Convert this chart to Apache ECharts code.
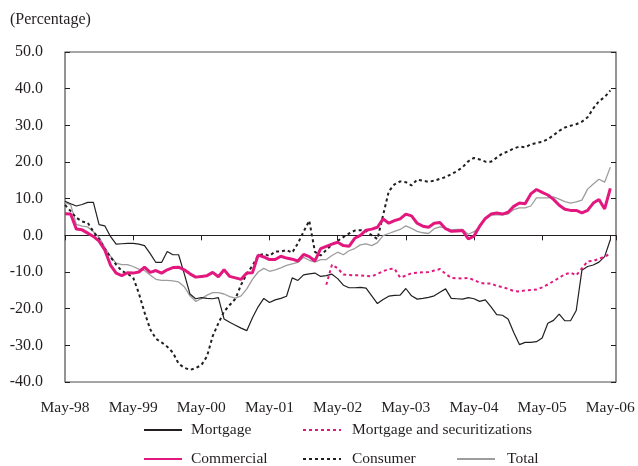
<!DOCTYPE html>
<html>
<head>
<meta charset="utf-8">
<title>Loan growth</title>
<script src="https://cdn.jsdelivr.net/npm/echarts@6/dist/echarts.min.js"></script>
<style>
  html, body { margin: 0; padding: 0; background: #fff; }
  #main { width: 638px; height: 466px; }
</style>
</head>
<body>
<div id="main"></div>
<script>
// monthly points, May-98 .. May-06 (97 months)
var monthLabels = ['May-98', 'May-99', 'May-00', 'May-01', 'May-02', 'May-03', 'May-04', 'May-05', 'May-06'];

var mortgage = [
  9.3, 8.6, 8.0, 8.4, 9.0, 9.0, 2.9, 2.6, -0.3, -2.4,
  -2.3, -2.2, -2.2, -2.4, -2.8, -5.0, -7.4, -7.4, -4.4, -5.3,
  -5.3, -10.5, -16.0, -17.3, -17.0, -17.2, -17.3, -17.0, -22.8, -23.7,
  -24.5, -25.3, -26.0, -22.5, -19.5, -17.2, -18.3, -17.6, -17.2, -16.6,
  -11.6, -12.3, -10.8, -10.5, -10.3, -11.2, -11.0, -10.6, -11.8, -13.6,
  -14.3, -14.3, -14.2, -14.4, -16.5, -18.6, -17.5, -16.6, -16.4, -16.3,
  -14.5, -16.5, -17.4, -17.2, -16.9, -16.5, -15.5, -14.6, -17.2, -17.3,
  -17.4, -17.0, -17.3, -18.0, -17.6, -19.5, -21.6, -21.8, -22.8, -26.5,
  -29.8, -29.2, -29.2, -29.0, -28.0, -24.0, -23.2, -21.5, -23.3, -23.3,
  -20.5, -9.5, -8.5, -8.1, -7.3, -5.8, -1.2
];

// series begins in the 47th month
var mortgageSecStart = 46;
var mortgageSec = [
  -13.5, -8.0, -9.0, -10.7, -10.8, -10.9, -10.9, -11.1, -11.2, -10.5,
  -9.8, -9.2, -9.1, -11.5, -11.0, -10.3, -10.2, -10.1, -10.0, -9.6,
  -9.2, -10.5, -11.6, -11.7, -11.8, -11.6, -12.2, -12.9, -13.2, -13.1,
  -13.8, -14.1, -14.6, -15.2, -15.3, -15.0, -14.9, -14.8, -14.2, -13.4,
  -12.5, -11.6, -10.6, -10.2, -10.9, -9.0, -7.1, -7.0, -6.4, -5.8, -5.0
];

var commercial = [
  5.9, 5.8, 1.7, 1.5, 0.6, -0.3, -1.6, -4.0, -8.1, -10.3,
  -11.0, -10.2, -10.3, -10.0, -8.7, -10.1, -9.6, -10.3, -9.4, -8.8,
  -8.7, -9.4, -10.5, -11.4, -11.2, -11.0, -10.1, -11.3, -9.4, -11.2,
  -11.6, -12.0, -10.3, -10.2, -5.4, -5.9, -6.6, -6.6, -5.7, -6.2,
  -6.5, -7.0, -5.2, -5.8, -7.0, -3.6, -3.0, -2.4, -1.9, -2.8,
  -3.0, -0.8, 0.0, 1.4, 1.7, 2.2, 4.5, 3.3, 4.0, 4.5,
  5.8, 5.3, 3.3, 2.5, 2.2, 3.3, 3.5, 1.8, 1.1, 1.2,
  1.3, -1.0, -0.2, 2.5, 4.6, 5.8, 6.1, 5.8, 6.3, 7.9,
  8.8, 8.6, 11.3, 12.5, 11.7, 11.0, 9.8, 8.2, 7.1, 6.8,
  6.8, 6.1, 6.8, 8.8, 9.8, 7.2, 12.8
];

var consumer = [
  8.3, 6.6, 4.8, 3.8, 3.4, 1.0, -1.0, -3.7, -5.9, -8.0,
  -9.7, -10.5, -11.5, -15.8, -21.0, -25.6, -28.2, -29.2, -30.4, -32.0,
  -35.0, -36.1, -36.7, -36.2, -35.4, -33.0, -27.5, -24.0, -20.8, -19.0,
  -17.3, -13.5, -10.5, -8.3, -5.5, -5.1, -5.6, -4.4, -4.4, -4.0,
  -4.7, -2.2, 1.0, 4.0, -4.5, -5.5, -4.0, -2.5, -1.5, -0.5,
  0.5, 1.3, 1.4, 1.2, 0.0, -1.0, 5.5, 12.0, 13.9, 14.7,
  14.5, 13.6, 15.2, 14.9, 14.6, 14.9, 15.4, 15.9, 16.7, 17.5,
  18.6, 20.2, 21.1, 20.7, 20.1, 20.1, 21.2, 22.3, 22.9, 23.7,
  24.2, 24.0, 24.8, 25.2, 25.5, 26.2, 27.3, 28.5, 29.4, 29.9,
  30.3, 31.0, 32.2, 34.6, 36.6, 37.7, 39.5
];

var total = [
  9.0, 8.3, 3.0, 2.5, 2.3, 1.0, -0.5, -3.3, -5.7, -7.6,
  -8.0, -8.0, -8.5, -9.2, -9.6, -10.8, -12.0, -12.3, -12.3, -12.4,
  -12.7, -14.0, -16.5, -18.0, -17.3, -16.3, -15.6, -15.6, -16.0, -16.7,
  -17.1, -16.5, -14.6, -12.0, -10.0, -9.0, -9.8, -9.4, -8.9, -8.2,
  -7.8, -7.4, -6.0, -6.8, -7.3, -6.6, -6.6, -5.5, -4.6, -5.3,
  -4.2, -3.6, -2.6, -2.3, -2.8, -2.0, -0.1, 0.5, 1.1, 1.6,
  2.6, 1.9, 1.1, 0.7, 0.5, 1.8, 2.3, 2.0, 1.5, 1.6,
  1.6, 0.3, 1.0, 2.3, 4.6, 5.5, 5.6, 5.6, 5.8, 7.0,
  7.5, 7.5, 8.0, 10.2, 10.2, 10.2, 10.5, 9.9, 9.2, 8.8,
  9.1, 9.6, 12.6, 14.0, 15.3, 14.5, 18.6
];

var font = '"Liberation Serif", "Times New Roman", serif';
var ink = '#231f20';
var pink = '#e2187f';

function toPairs(values, start) {
  start = start || 0;
  return values.map(function (v, i) { return [start + i, v]; });
}

function legendFor(name, left, top, gap) {
  return {
    data: [name], left: left, top: top, padding: 0,
    itemWidth: 38, itemHeight: 16,
    itemStyle: { opacity: 0 },   // line only, no marker in the key
    textStyle: { fontFamily: font, fontSize: 15.5, color: ink, padding: [0, 0, 0, gap] }
  };
}

var chart = echarts.init(document.getElementById('main'));

var option = {
  animation: false,
  textStyle: { fontFamily: font },
  title: {
    text: '(Percentage)', left: 10, top: 12, padding: 0,
    textStyle: { fontFamily: font, fontSize: 16, fontWeight: 'normal', color: ink }
  },
  legend: [
    legendFor('Mortgage', 143, 422, 4),
    legendFor('Mortgage and securitizations', 302, 422, 6),
    legendFor('Commercial', 143, 451, 4),
    legendFor('Consumer', 302, 451, 6),
    legendFor('Total', 456, 451, 7)
  ],
  grid: {
    left: 65, right: 22, top: 52, bottom: 84,
    show: true, borderColor: '#4d4d4d', borderWidth: 1.2
  },
  xAxis: [
    {
      type: 'value', min: 0, max: 97, interval: 12, position: 'bottom',
      axisLine: { show: false, onZero: false },
      axisTick: { show: false },
      splitLine: { show: false },
      axisLabel: {
        margin: 18, fontSize: 15.5, fontFamily: font, color: ink,
        formatter: function (v) { return monthLabels[v / 12] || ''; }
      }
    },
    {
      // zero line with month ticks
      type: 'value', min: 0, max: 97, interval: 12, position: 'bottom',
      axisLine: { show: true, onZero: true, onZeroAxisIndex: 0, lineStyle: { color: ink, width: 1 } },
      axisTick: { show: true, length: 5, lineStyle: { color: ink } },
      axisLabel: { show: false },
      splitLine: { show: false }
    }
  ],
  yAxis: [
    {
      type: 'value', min: -40, max: 50, interval: 10, position: 'left',
      axisLine: { show: false, onZero: false },
      axisTick: { show: true, inside: true, length: 5, lineStyle: { color: ink } },
      splitLine: { show: false },
      axisLabel: {
        margin: 22, fontSize: 16, fontFamily: font, color: ink,
        formatter: function (v) { return v.toFixed(1); }
      }
    },
    {
      type: 'value', min: -40, max: 50, interval: 10, position: 'right',
      axisLine: { show: false, onZero: false },
      axisTick: { show: true, inside: true, length: 5, lineStyle: { color: ink } },
      axisLabel: { show: false },
      splitLine: { show: false }
    }
  ],
  series: [
    {
      name: 'Total', type: 'line', symbol: 'none', data: toPairs(total),
      lineStyle: { color: '#9d9d9d', width: 1.3 }, itemStyle: { color: '#9d9d9d' }
    },
    {
      name: 'Mortgage', type: 'line', symbol: 'none', data: toPairs(mortgage),
      lineStyle: { color: ink, width: 1.2 }, itemStyle: { color: ink }
    },
    {
      name: 'Consumer', type: 'line', symbol: 'none', data: toPairs(consumer),
      lineStyle: { color: ink, width: 2, type: [3, 3] }, itemStyle: { color: ink }
    },
    {
      name: 'Mortgage and securitizations', type: 'line', symbol: 'none',
      data: toPairs(mortgageSec, mortgageSecStart),
      lineStyle: { color: pink, width: 2, type: [3, 3] }, itemStyle: { color: pink }
    },
    {
      name: 'Commercial', type: 'line', symbol: 'none', data: toPairs(commercial),
      lineStyle: { color: pink, width: 3 }, itemStyle: { color: pink }
    }
  ]
};

chart.setOption(option);
</script>
</body>
</html>
